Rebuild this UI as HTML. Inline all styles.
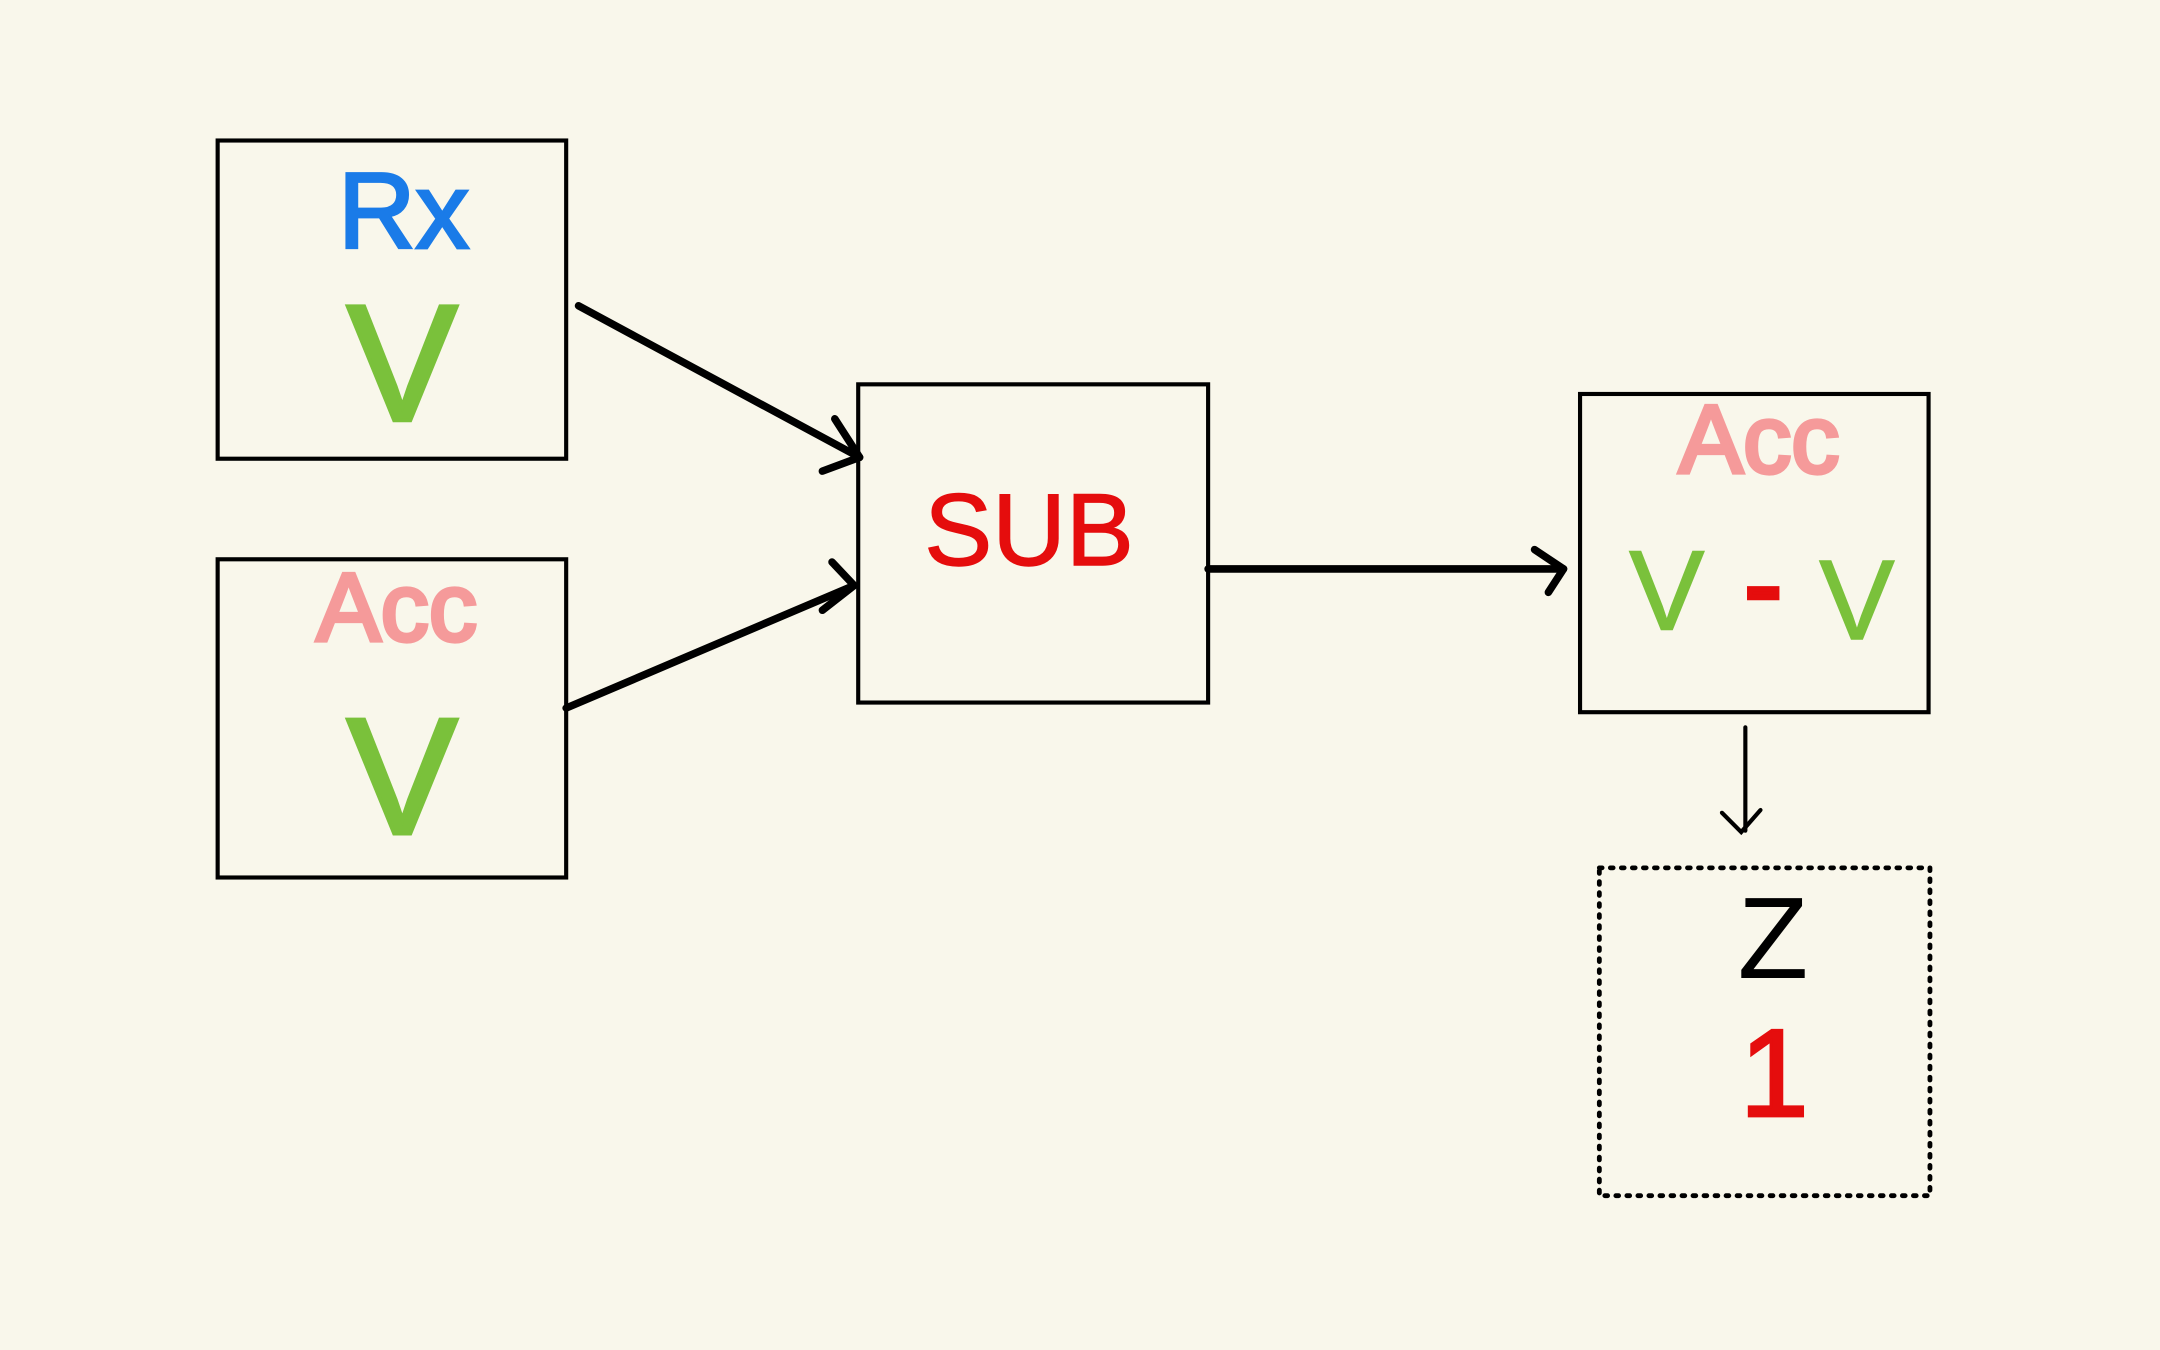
<!DOCTYPE html>
<html><head><meta charset="utf-8"><style>
html,body{margin:0;padding:0;background:#f9f7eb;}
svg{display:block}
text{font-family:"Liberation Sans",sans-serif;text-anchor:middle}
</style></head><body>
<svg width="2160" height="1350" viewBox="0 0 1568 980" xmlns="http://www.w3.org/2000/svg">
<rect width="1568" height="980" fill="#f9f7eb"/>
<g fill="none" stroke="#000" stroke-width="3">
<rect x="158" y="102" width="253" height="231"/>
<rect x="158" y="406" width="253" height="231"/>
<rect x="623" y="279" width="254" height="231"/>
<rect x="1147" y="286" width="253" height="231"/>
<rect x="1161" y="630" width="240" height="238" stroke-dasharray="2 6" stroke-linecap="round" stroke-width="3.5"/>
</g>
<g fill="none" stroke="#000" stroke-width="5.5" stroke-linecap="round" stroke-linejoin="round">
<line x1="420" y1="222" x2="624" y2="332"/>
<polyline points="606,304 624,332 597,342"/>
<line x1="411" y1="514" x2="620" y2="425"/>
<polyline points="604,408 620,425 597,443"/>
<line x1="877" y1="413" x2="1135" y2="413"/>
<polyline points="1114,399 1135,413 1124,430"/>
</g>
<g fill="none" stroke="#000" stroke-width="3" stroke-linecap="round">
<line x1="1267" y1="528" x2="1267" y2="603"/>
<polyline points="1250,590 1264,604 1278,588"/>
</g>
<g>
<text x="293" y="180" font-size="78" fill="#1a7be8" stroke="#1a7be8" stroke-width="2">Rx</text>
<text x="292" y="305" font-size="120" fill="#7ac13b" stroke="#7ac13b" stroke-width="3">V</text>
<text x="288" y="465" font-size="70" fill="#f59a9a" stroke="#f59a9a" stroke-width="3">Acc</text>
<text x="292" y="605" font-size="120" fill="#7ac13b" stroke="#7ac13b" stroke-width="3">V</text>
<text x="747" y="410" font-size="74" fill="#e50d0d" stroke="#e50d0d" stroke-width="1">SUB</text>
<text x="1277" y="343" font-size="70" fill="#f59a9a" stroke="#f59a9a" stroke-width="3">Acc</text>
<text x="1210" y="457" font-size="82" fill="#7ac13b" stroke="#7ac13b" stroke-width="1">V</text>
<text x="1280" y="452" font-size="80" fill="#e50d0d" stroke="#e50d0d" stroke-width="4">-</text>
<text x="1348" y="464" font-size="82" fill="#7ac13b" stroke="#7ac13b" stroke-width="1">V</text>
<text x="1287" y="710" font-size="84" fill="#000">Z</text>
<text x="1288" y="810" font-size="90" fill="#e50d0d" stroke="#e50d0d" stroke-width="2">1</text>
</g>
</svg>
</body></html>
